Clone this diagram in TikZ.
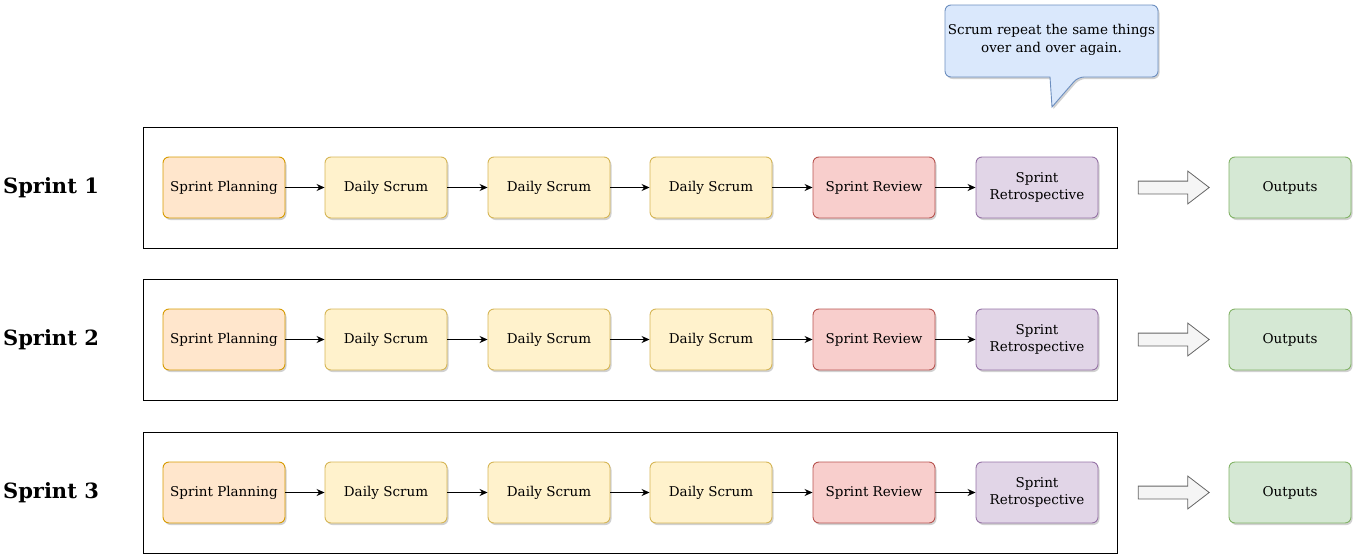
\documentclass[tikz,border=0pt]{standalone}
\usepackage{fontspec}
\setmainfont{DejaVu Serif}
\usetikzlibrary{arrows.meta,shadows,shapes.arrows}
\definecolor{orF}{HTML}{FFE6CC}\definecolor{orD}{HTML}{D79B00}
\definecolor{yeF}{HTML}{FFF2CC}\definecolor{yeD}{HTML}{D6B656}
\definecolor{reF}{HTML}{F8CECC}\definecolor{reD}{HTML}{B85450}
\definecolor{puF}{HTML}{E1D5E7}\definecolor{puD}{HTML}{9673A6}
\definecolor{grF}{HTML}{D5E8D4}\definecolor{grD}{HTML}{82B366}
\definecolor{blF}{HTML}{DAE8FC}\definecolor{blD}{HTML}{6C8EBF}
\definecolor{gyF}{HTML}{F5F5F5}\definecolor{gyD}{HTML}{666666}
\tikzset{
  shad/.style={drop shadow={shadow xshift=1.5pt,shadow yshift=-2pt,opacity=0.18,fill=black}},
  box/.style={rounded corners=6pt, minimum width=122pt, minimum height=61pt,
    align=center, font=\fontsize{13.5}{17}\selectfont, line width=0.9pt, shad},
  orbox/.style={box, draw=orD, fill=orF},
  yebox/.style={box, draw=yeD, fill=yeF},
  rebox/.style={box, draw=reD, fill=reF},
  pubox/.style={box, draw=puD, fill=puF},
  grbox/.style={box, draw=grD, fill=grF},
  frame/.style={draw=black, line width=1pt, minimum width=974pt, minimum height=121pt},
  conn/.style={-{Stealth[length=8pt,width=7pt]}, line width=1pt},
  label/.style={font=\fontsize{21}{25}\bfseries},
  bigarrow/.style={single arrow, draw=gyD, fill=gyF, line width=0.8pt,
    minimum height=71pt, inner sep=6pt, single arrow head extend=10pt,
    single arrow tip angle=75},
}
\begin{document}
\begin{tikzpicture}[x=1pt,y=-1pt]
\useasboundingbox (0,0) rectangle (1358,554);
\foreach \r/\y in {1/187.5, 2/339.5, 3/492.5}{
  \node[frame] (f\r) at (630,\y) {};
  \node[label] (s\r) at (51,\y) {Sprint \r};
  \node[orbox] (p\r) at (224,\y) {Sprint Planning};
  \node[yebox] (a\r) at (386,\y) {Daily Scrum};
  \node[yebox] (b\r) at (549,\y) {Daily Scrum};
  \node[yebox] (c\r) at (711,\y) {Daily Scrum};
  \node[rebox] (v\r) at (874,\y) {Sprint Review};
  \node[pubox] (t\r) at (1037,\y) {Sprint\\Retrospective};
  \node[bigarrow] (w\r) at (1169.5,\y) {};
  \node[grbox] (o\r) at (1290,\y) {Outputs};
  \draw[conn] (p\r) -- (a\r);
  \draw[conn] (a\r) -- (b\r);
  \draw[conn] (b\r) -- (c\r);
  \draw[conn] (c\r) -- (v\r);
  \draw[conn] (v\r) -- (t\r);
}
\path[draw=blD, fill=blF, line width=0.9pt, shad]
  (1050,5) [rounded corners=6pt] -- (1158,5) -- (1158,77) -- (1078,77)
  [sharp corners] -- (1052,107) -- (1050,77)
  [rounded corners=6pt] -- (945,77) -- (945,5) -- cycle;
\node[align=center, font=\fontsize{13.5}{18}\selectfont] (note) at (1051.5,40)
  {Scrum repeat the same things\\over and over again.};
\end{tikzpicture}
\end{document}
